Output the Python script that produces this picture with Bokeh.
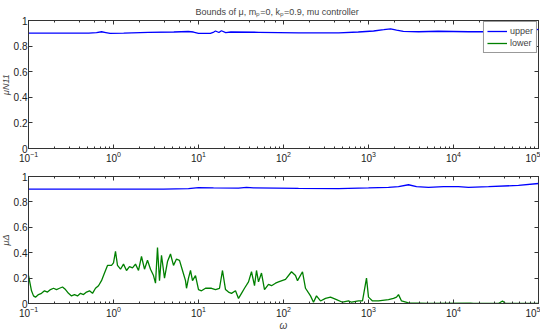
import numpy as np
from bokeh.plotting import figure
from bokeh.layouts import column
from bokeh.models import LogAxis, LinearAxis, FixedTicker, Legend, LegendItem, Range1d
from bokeh.embed import file_html
from bokeh.resources import INLINE

# ---- data (log10 of omega, value) ----
top_upper_logw = [-1.0, -0.29, -0.2, -0.14, -0.09, -0.04, 0.12, 0.41, 0.71, 0.88, 0.94, 1.0, 1.14, 1.18, 1.2, 1.24, 1.27, 1.32, 1.38, 1.71, 2.18, 2.65, 2.88, 3.06, 3.18, 3.26, 3.33, 3.41, 3.59, 3.82, 4.0, 4.18, 4.41, 4.65, 4.88, 5.0]
top_upper_val = [0.902, 0.902, 0.906, 0.912, 0.906, 0.9, 0.902, 0.908, 0.91, 0.914, 0.91, 0.9, 0.9, 0.91, 0.918, 0.906, 0.92, 0.906, 0.91, 0.908, 0.904, 0.904, 0.91, 0.918, 0.928, 0.935, 0.925, 0.915, 0.912, 0.916, 0.914, 0.912, 0.912, 0.916, 0.92, 0.93]

bot_upper_px = [30, 150, 165, 190, 200, 215, 240, 248, 255, 300, 340, 370, 390, 400, 410, 418, 430, 445, 460, 470, 490, 520, 540]
bot_upper_val = [0.9, 0.9, 0.9, 0.905, 0.912, 0.91, 0.908, 0.915, 0.91, 0.906, 0.905, 0.91, 0.915, 0.92, 0.935, 0.92, 0.915, 0.92, 0.92, 0.915, 0.92, 0.93, 0.945]

lower_px = [30, 31, 33, 35, 37, 40, 43, 46, 49, 52, 55, 58, 61, 64, 67, 70, 73, 76, 79, 82, 85, 88, 91, 94, 97, 100, 103, 106, 109, 113, 115, 117, 119, 122, 125, 128, 131, 134, 137, 140, 143, 146, 149, 152, 155, 157, 159, 161, 163, 166, 169, 172, 175, 178, 181, 184, 187, 188, 190, 192, 194, 197, 200, 203, 207, 213, 217, 221, 224, 227, 230, 233, 237, 240, 243, 246, 250, 253, 256, 258, 260, 263, 266, 270, 273, 277, 280, 287, 293, 297, 299, 304, 307, 312, 315, 318, 322, 327, 332, 338, 344, 350, 353, 360, 364, 368, 370, 374, 380, 390, 395, 398, 400, 403, 410, 430, 472, 475, 500, 504, 507, 540]
lower_val = [0.22, 0.18, 0.10, 0.06, 0.05, 0.07, 0.08, 0.10, 0.09, 0.11, 0.12, 0.11, 0.12, 0.13, 0.11, 0.08, 0.06, 0.07, 0.06, 0.08, 0.07, 0.09, 0.10, 0.08, 0.12, 0.14, 0.18, 0.24, 0.30, 0.30, 0.32, 0.41, 0.30, 0.27, 0.31, 0.26, 0.29, 0.28, 0.31, 0.26, 0.37, 0.27, 0.34, 0.27, 0.22, 0.16, 0.44, 0.18, 0.38, 0.20, 0.33, 0.39, 0.30, 0.35, 0.34, 0.26, 0.18, 0.12, 0.20, 0.26, 0.18, 0.22, 0.11, 0.10, 0.12, 0.12, 0.11, 0.12, 0.26, 0.11, 0.09, 0.08, 0.10, 0.04, 0.08, 0.12, 0.17, 0.25, 0.14, 0.26, 0.17, 0.24, 0.11, 0.15, 0.14, 0.16, 0.17, 0.19, 0.25, 0.22, 0.18, 0.25, 0.12, 0.06, 0.01, 0.06, 0.02, 0.04, 0.05, 0.03, 0.01, 0.02, 0.01, 0.02, 0.02, 0.20, 0.05, 0.02, 0.02, 0.03, 0.04, 0.05, 0.07, 0.02, 0.005, 0.0, 0.003, 0.0, 0.0, 0.02, 0.0, 0.0]

y_ticks = [0, 0.2, 0.4, 0.6, 0.8, 1]
y_tick_labels = ["0", "0.2", "0.4", "0.6", "0.8", "1"]

title_text = "Bounds of μ, mₚ=0, kₚ=0.9, mu controller"
legend_labels = ["upper", "lower"]

BLUE = "#0000ff"
GREEN = "#008000"
FONT = "Liberation Sans"
AX = "#333333"


def px_to_omega(px):
    return [10 ** ((p - 30) / 85.0 - 1) for p in px]


def style(p, ylabel, xlabel=None):
    p.xgrid.visible = False
    p.ygrid.visible = False
    p.outline_line_color = AX
    p.outline_line_width = 1
    for ax in p.xaxis:
        ax.major_tick_in = 4
        ax.major_tick_out = 0
        ax.minor_tick_in = 2
        ax.minor_tick_out = 0
        ax.axis_line_color = AX
        ax.major_tick_line_color = AX
        ax.minor_tick_line_color = AX
        ax.major_label_text_font = FONT
        ax.major_label_text_font_size = "10px"
        ax.major_label_text_color = "#222222"
        ax.major_label_standoff = 2
        ax.axis_label_text_font = FONT
        ax.axis_label_text_font_style = "italic"
        ax.axis_label_text_font_size = "10px"
        ax.axis_label_standoff = 0
    if xlabel:
        p.xaxis[0].axis_label = xlabel
    for ax in p.yaxis:
        ax.ticker = FixedTicker(ticks=y_ticks)
        ax.major_label_overrides = dict(zip(y_ticks, y_tick_labels))
        ax.major_tick_in = 4
        ax.major_tick_out = 0
        ax.minor_tick_line_color = None
        ax.axis_line_color = AX
        ax.major_tick_line_color = AX
        ax.major_label_text_font = FONT
        ax.major_label_text_font_size = "10px"
        ax.major_label_text_color = "#222222"
        ax.major_label_standoff = 1
        ax.axis_label_text_font = FONT
        ax.axis_label_text_font_style = "italic"
        ax.axis_label_text_font_size = "9px"
        ax.axis_label_standoff = 0
    p.yaxis[0].axis_label = ylabel
    # mirrored ticks on top and right edges (no labels)
    top = LogAxis(major_tick_in=4, major_tick_out=0, minor_tick_in=2, minor_tick_out=0,
                  major_label_text_color=None, major_label_text_font_size="1px",
                  major_label_standoff=0, axis_line_color=None,
                  major_tick_line_color=AX, minor_tick_line_color=AX)
    p.add_layout(top, "above")
    right = LinearAxis(ticker=FixedTicker(ticks=y_ticks), major_tick_in=4, major_tick_out=0,
                       major_label_text_color=None, major_label_text_font_size="1px",
                       major_label_standoff=0, axis_line_color=None,
                       major_tick_line_color=AX, minor_tick_line_color=None)
    p.add_layout(right, "right")


FW = 510

p1 = figure(x_axis_type="log", x_range=Range1d(0.1, 1e5), y_range=Range1d(0, 1),
            frame_width=FW, frame_height=128, output_backend="svg", toolbar_location=None,
            min_border_left=10, min_border_right=2, min_border_top=0, min_border_bottom=4,
            title=title_text)
p1.title.align = "left"
p1.title.text_font = FONT
p1.title.text_font_size = "9px"
p1.title.text_font_style = "normal"
p1.title.offset = 167
p1.title.standoff = 8

omega_top = [10 ** v for v in top_upper_logw]
r_up = p1.line(omega_top, top_upper_val, line_color=BLUE, line_width=1.3)
r_lo_dummy = p1.line(x=[1.0, 1.0], y=[-1.0, -1.0], line_color=GREEN, line_width=1.3)
style(p1, "μN11")

leg = Legend(items=[LegendItem(label=legend_labels[0], renderers=[r_up]),
                    LegendItem(label=legend_labels[1], renderers=[r_lo_dummy])],
             location="top_right")
leg.label_text_font = FONT
leg.label_text_font_size = "9px"
leg.label_height = 12
leg.glyph_height = 12
leg.glyph_width = 20
leg.spacing = 0
leg.padding = 3
leg.margin = 1
leg.label_standoff = 3
leg.border_line_color = AX
leg.background_fill_alpha = 1
p1.add_layout(leg)

p2 = figure(x_axis_type="log", x_range=Range1d(0.1, 1e5), y_range=Range1d(0, 1),
            frame_width=FW, frame_height=127, output_backend="svg", toolbar_location=None,
            min_border_left=10, min_border_right=2, min_border_top=12, min_border_bottom=0)
p2.line(px_to_omega(bot_upper_px), bot_upper_val, line_color=BLUE, line_width=1.3)
p2.line(px_to_omega(lower_px), lower_val, line_color=GREEN, line_width=1.3)
style(p2, "μΔ", "ω")

layout = column(p1, p2, spacing=0, margin=(0, 0, 0, -3))
open("out.html", "w").write(file_html(layout, INLINE))
